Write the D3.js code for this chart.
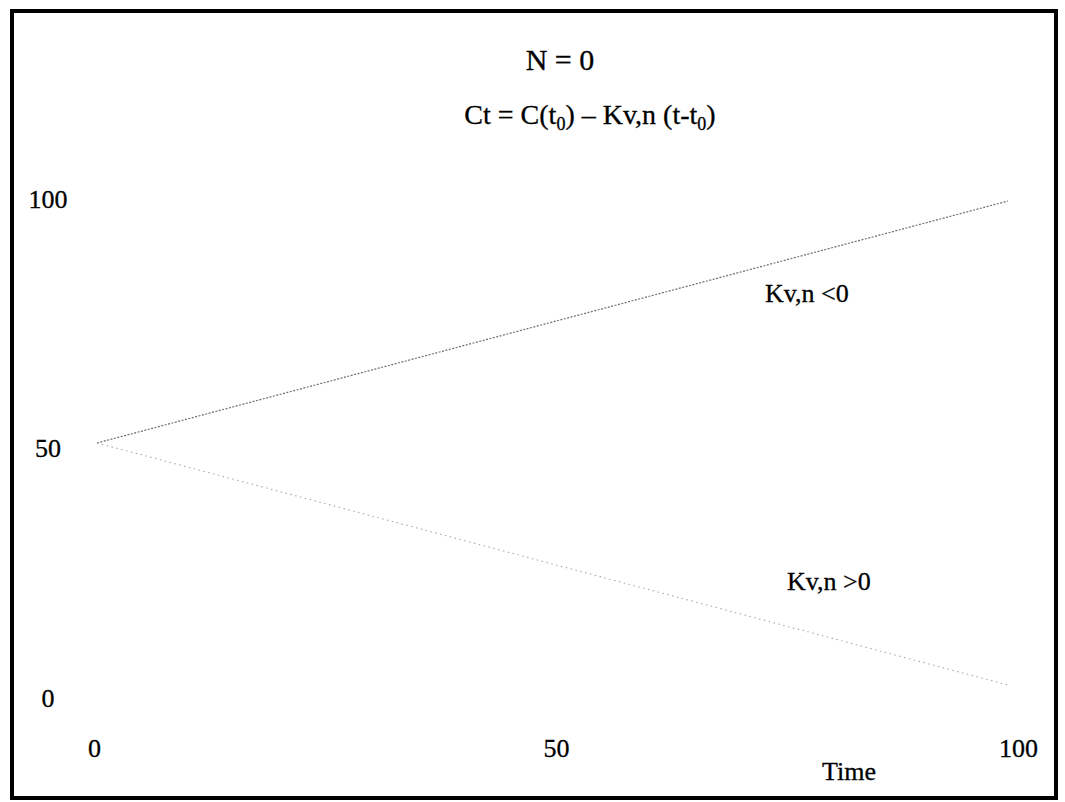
<!DOCTYPE html>
<html>
<head>
<meta charset="utf-8">
<script src="https://cdn.jsdelivr.net/npm/d3@7"></script>
<style>
  html, body { margin: 0; padding: 0; background: #fff; }
  svg { display: block; }
  text { font-family: "Liberation Serif", "Times New Roman", serif; fill: #000; stroke: #000; stroke-width: 0.3px; }
</style>
</head>
<body>
<svg id="chart" width="1065" height="802"></svg>
<script>
// Zero-order kinetics: concentration vs. time for the two signs of Kv,n
const time = [0, 100];
const concNegK = [50, 100];   // Kv,n < 0  (concentration grows)
const concPosK = [50, 0];     // Kv,n > 0  (concentration decays)
const xTickValues = [0, 50, 100];
const yTickValues = [0, 50, 100];

const svg = d3.select("#chart");

// outer frame
svg.append("rect")
  .attr("x", 12).attr("y", 11)
  .attr("width", 1044).attr("height", 787)
  .attr("fill", "none").attr("stroke", "#000").attr("stroke-width", 4);

// scales for the plotted lines
const x = d3.scaleLinear().domain([0, 100]).range([97, 1008]);
const y = d3.scaleLinear().domain([0, 100]).range([685, 201]);

// scales for the tick labels (labels sit slightly off the plot extents)
const xLab = d3.scaleLinear().domain([0, 100]).range([94, 1018]);
const yLab = d3.scaleLinear().domain([0, 100]).range([697, 198]);

// x axis labels
const xAxis = d3.axisBottom(xLab).tickValues(xTickValues).tickSize(0).tickFormat(d3.format("d"));
const gx = svg.append("g").attr("transform", "translate(0,736)").call(xAxis);
gx.select(".domain").remove();
gx.selectAll("text").attr("font-size", 26).attr("font-family", "Liberation Serif").attr("dy", "0.7em");

// y axis labels
const yAxis = d3.axisLeft(yLab).tickValues(yTickValues).tickSize(0).tickFormat(d3.format("d"));
const gy = svg.append("g").attr("transform", "translate(48,0)").call(yAxis);
gy.select(".domain").remove();
gy.selectAll("text").attr("font-size", 26).attr("font-family", "Liberation Serif")
  .attr("text-anchor", "middle").attr("x", 0).attr("dy", "0.35em");

// lines
const line = d3.line().x(d => x(d[0])).y(d => y(d[1]));

svg.append("path")
  .datum(d3.zip(time, concNegK))
  .attr("d", line)
  .attr("fill", "none")
  .attr("stroke", "#6e6e6e")
  .attr("stroke-width", 1.2)
  .attr("stroke-dasharray", "2,1.5");

svg.append("path")
  .datum(d3.zip(time, concPosK))
  .attr("d", line)
  .attr("fill", "none")
  .attr("stroke", "#a8a8a8")
  .attr("stroke-width", 1.1)
  .attr("stroke-dasharray", "1.5,3.5");

// annotations
svg.append("text").attr("x", 765).attr("y", 302).attr("font-size", 26).text("Kv,n <0");
svg.append("text").attr("x", 787).attr("y", 590).attr("font-size", 26).text("Kv,n >0");
svg.append("text").attr("x", 822).attr("y", 780).attr("font-size", 26).text("Time");

// titles
svg.append("text").attr("x", 560).attr("y", 70).attr("font-size", 30)
  .attr("text-anchor", "middle").text("N = 0");

const f = svg.append("text").attr("x", 590).attr("y", 124).attr("font-size", 28)
  .attr("text-anchor", "middle");
f.append("tspan").text("Ct = C(t");
f.append("tspan").attr("font-size", 18).attr("dy", 6).text("0");
f.append("tspan").attr("dy", -6).text(") \u2013 Kv,n (t-t");
f.append("tspan").attr("font-size", 18).attr("dy", 6).text("0");
f.append("tspan").attr("dy", -6).text(")");
</script>
</body>
</html>
